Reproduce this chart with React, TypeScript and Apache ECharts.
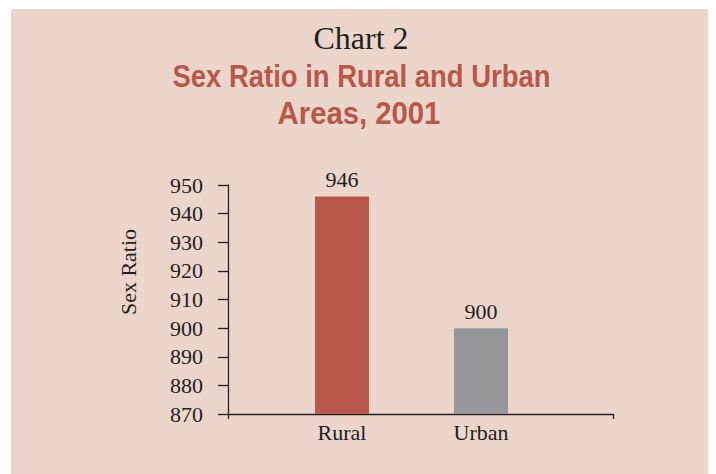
import React, { useEffect, useRef } from "react";
import * as echarts from "echarts";

const categories = ["Rural", "Urban"];
const sexRatio = [946, 900];
const barColors = ["#b9574a", "#96979b"];
const yTicks = { min: 870, max: 950, interval: 10 };
const titleLine0 = "Chart 2";
const titleLine1 = "Sex Ratio in Rural and Urban";
const titleLine2 = "Areas, 2001";
const yName = "Sex Ratio";

const SERIF = "'Liberation Serif', 'DejaVu Serif', serif";
const SANS = "'Liberation Sans', sans-serif";
const INK = "#231f20";

export default function App() {
  const ref = useRef<HTMLDivElement>(null);
  useEffect(() => {
    document.body.style.margin = "0";
    const chart = echarts.init(ref.current!, null, { renderer: "svg" });
    chart.setOption({
      animation: false,
      backgroundColor: "#ffffff",
      graphic: [
        { type: "rect", z: -10, shape: { x: 11, y: 9, width: 697, height: 465 }, style: { fill: "#ecd6cc" } },
        { type: "text", x: 361, y: 38, style: { text: titleLine0, font: `32px ${SERIF}`, fill: INK, textAlign: "center", textVerticalAlign: "middle" } },
        { type: "text", x: 361.5, y: 76, scaleX: 0.885, style: { text: titleLine1, font: `bold 31px ${SANS}`, fill: "#b9574a", textAlign: "center", textVerticalAlign: "middle" } },
        { type: "text", x: 359, y: 113.5, scaleX: 0.945, style: { text: titleLine2, font: `bold 31px ${SANS}`, fill: "#b9574a", textAlign: "center", textVerticalAlign: "middle" } },
        { type: "text", x: 128, y: 272, rotation: Math.PI / 2, style: { text: yName, font: `22px ${SERIF}`, fill: INK, textAlign: "center", textVerticalAlign: "middle" } },
      ],
      grid: [
        { left: 228, right: 103, top: 185, bottom: 60 },
        { left: 272.5, right: 165.5, top: 185, bottom: 60 },
      ],
      xAxis: [
        {
          type: "value", gridIndex: 0, min: 0, max: 1, interval: 1,
          axisLine: { show: true, lineStyle: { color: INK, width: 1.3 } },
          axisTick: { show: true, length: 5, lineStyle: { color: INK, width: 1.3 } },
          axisLabel: { show: false }, splitLine: { show: false },
        },
        {
          type: "category", gridIndex: 1, data: categories,
          axisLine: { show: false }, axisTick: { show: false },
          axisLabel: { margin: 7, color: INK, fontSize: 22, fontFamily: SERIF },
        },
      ],
      yAxis: [
        {
          type: "value", gridIndex: 0, min: yTicks.min, max: yTicks.max, interval: yTicks.interval,
          axisLine: { show: true, lineStyle: { color: INK, width: 1.3 } },
          axisTick: { show: true, length: 10, lineStyle: { color: INK, width: 1.3 } },
          axisLabel: { margin: 25, color: INK, fontSize: 22, fontFamily: SERIF },
          splitLine: { show: false },
        },
        {
          type: "value", gridIndex: 1, min: yTicks.min, max: yTicks.max, interval: yTicks.interval,
          show: false,
        },
      ],
      series: [
        {
          type: "bar", xAxisIndex: 1, yAxisIndex: 1, barWidth: 54,
          data: sexRatio.map((v, i) => ({ value: v, itemStyle: { color: barColors[i] } })),
          label: { show: true, position: "top", distance: 6, color: INK, fontSize: 22, fontFamily: SERIF },
        },
      ],
    });
    return () => chart.dispose();
  }, []);
  return <div ref={ref} style={{ width: 716, height: 474 }} />;
}
